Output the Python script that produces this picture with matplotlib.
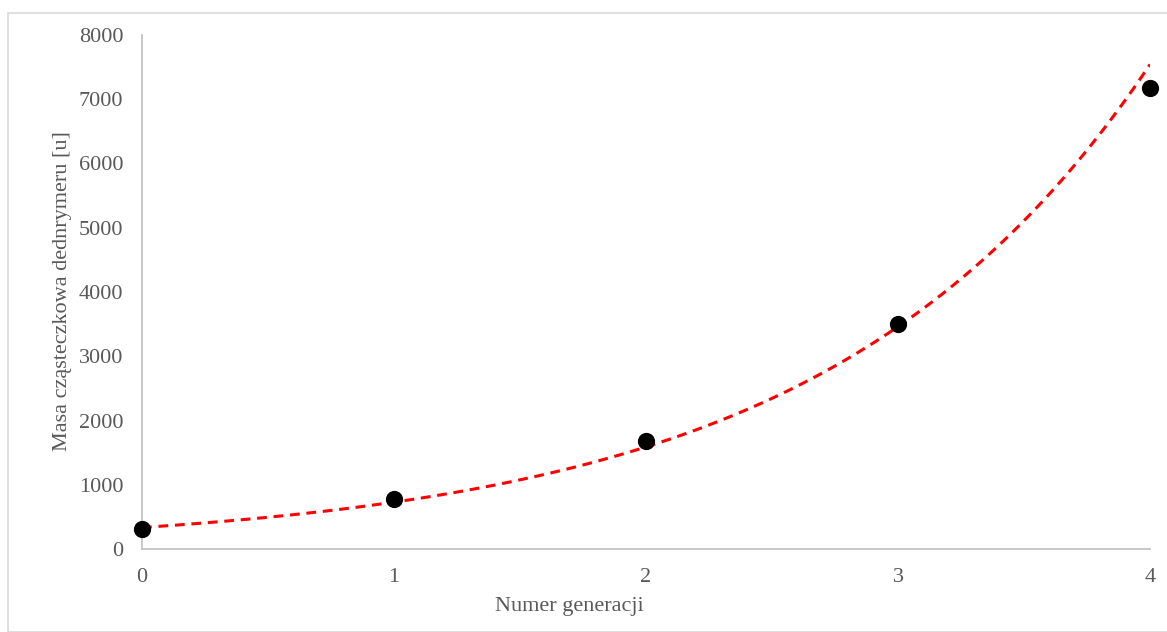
import numpy as np
import matplotlib
matplotlib.use("Agg")
import matplotlib.pyplot as plt
from matplotlib.patches import Rectangle

generations = [0, 1, 2, 3, 4]
masses = [310, 775, 1680, 3495, 7170]
x_ticks = [0, 1, 2, 3, 4]
y_ticks = [0, 1000, 2000, 3000, 4000, 5000, 6000, 7000, 8000]

W, H = 1167, 632
fig = plt.figure(figsize=(W / 100, H / 100), dpi=100)
plt.rcParams['font.family'] = ['Liberation Serif', 'DejaVu Serif']
gray = '#595959'

ax = fig.add_axes([142 / W, 1 - 549 / H, (1150 - 142) / W, (549 - 35) / H])

# exponential trendline fitted to the data
b, ln_a = np.polyfit(generations, np.log(masses), 1)
xs = np.linspace(generations[0], generations[-1], 300)
ax.plot(xs, np.exp(ln_a + b * xs), color='#ff0000', lw=2.2, ls=(0, (3.2, 2.2)), zorder=2)
ax.scatter(generations, masses, s=130, color='black', zorder=3, clip_on=False)

ax.set_xlim(0, 4)
ax.set_ylim(0, 8000)
ax.set_xticks(x_ticks)
ax.set_yticks(y_ticks)
ax.tick_params(length=0, labelsize=16, colors=gray)
ax.tick_params(axis='y', pad=13.5)
ax.tick_params(axis='x', pad=13.5)
for s in ['top', 'right']:
    ax.spines[s].set_visible(False)
for s in ['left', 'bottom']:
    ax.spines[s].set_color('#bfbfbf')
    ax.spines[s].set_linewidth(1.2)

fig.text(569 / W, 1 - 607 / H, 'Numer generacji', ha='center', va='center',
         fontsize=16, color=gray)
fig.text(63 / W, 1 - 291 / H, 'Masa cząsteczkowa dednrymeru [u]', ha='center',
         va='center', rotation=90, fontsize=16, color=gray)

fig.patches.append(Rectangle((8 / W, 0), 1, 1 - 13 / H, transform=fig.transFigure,
                             fill=False, edgecolor='#d9d9d9', lw=1.2))

fig.savefig('out.png', dpi=100)
